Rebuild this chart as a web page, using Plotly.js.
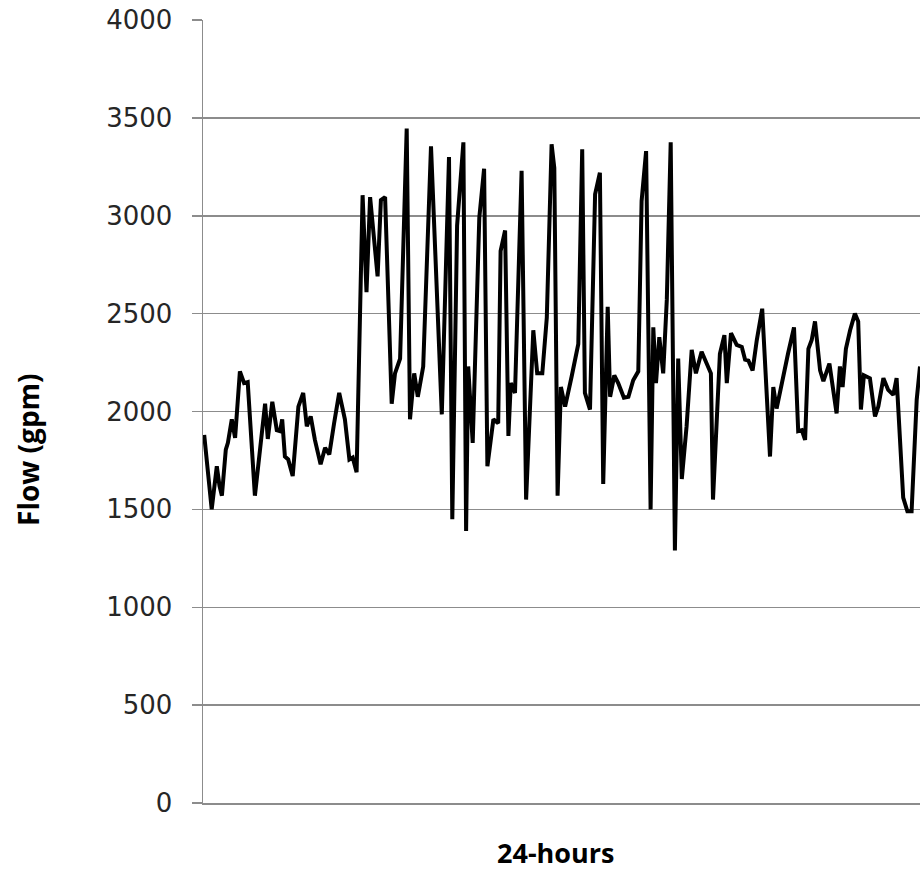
<!DOCTYPE html>
<html>
<head>
<meta charset="utf-8">
<script src="https://cdn.plot.ly/plotly-3.0.1.min.js"></script>
<style>
  html, body { margin: 0; padding: 0; background: #ffffff; overflow: hidden; }
  #chart { width: 930px; height: 870px; }
</style>
</head>
<body>
<div id="chart"></div>
<script>
// Time of day (hours) of each reading
const hours = [
  0.04, 0.29, 0.46, 0.55, 0.63, 0.76, 0.83, 0.96, 1.07, 1.23, 1.37, 1.49, 1.73,
  2.07, 2.16, 2.31, 2.46, 2.57, 2.64, 2.73, 2.84, 2.99, 3.18, 3.34, 3.46, 3.59,
  3.73, 3.92, 4.07, 4.21, 4.37, 4.54, 4.73, 4.88, 4.99, 5.12, 5.32, 5.45, 5.57,
  5.82, 5.93, 6.07, 6.29, 6.40, 6.57, 6.79, 6.90, 7.04, 7.16, 7.34, 7.60, 7.96,
  8.20, 8.31, 8.47, 8.68, 8.77, 8.84, 8.99, 9.21, 9.37, 9.48, 9.68, 9.84, 9.92,
  10.07, 10.18, 10.26, 10.40, 10.62, 10.77, 11.01, 11.14, 11.31, 11.46, 11.62,
  11.71, 11.82, 11.93, 12.07, 12.29, 12.51, 12.64, 12.73, 12.90, 13.07, 13.23,
  13.34, 13.49, 13.57, 13.71, 13.84, 14.03, 14.18, 14.34, 14.51, 14.62, 14.77,
  14.92, 15.01, 15.10, 15.21, 15.34, 15.46, 15.59, 15.73, 15.84, 15.96, 16.12,
  16.29, 16.43, 16.62, 16.93, 17.00, 17.23, 17.38, 17.46, 17.60, 17.79, 17.96,
  18.07, 18.18, 18.32, 18.46, 18.64, 18.90, 19.01, 19.12, 19.50, 19.70, 19.84,
  19.96, 20.07, 20.18, 20.29, 20.40, 20.57, 20.68, 20.88, 21.12, 21.23, 21.32,
  21.43, 21.57, 21.73, 21.84, 21.93, 22.03, 22.23, 22.40, 22.51, 22.68, 22.84,
  23.01, 23.12, 23.34, 23.48, 23.62, 23.79, 23.90
];

// Flow readings (gpm)
const flow = [
  1880, 1500, 1720, 1620, 1570, 1805, 1840, 1960, 1865, 2205, 2145, 2150, 1570,
  2040, 1860, 2050, 1905, 1900, 1960, 1770, 1755, 1670, 2025, 2095, 1925, 1975,
  1855, 1730, 1815, 1780, 1940, 2095, 1960, 1755, 1765, 1690, 3105, 2610, 3095,
  2690, 3080, 3095, 2040, 2195, 2270, 3445, 1960, 2195, 2075, 2230, 3355, 1985,
  3300, 1450, 2950, 3375, 1390, 2230, 1840, 2990, 3240, 1720, 1960, 1940, 2820,
  2925, 1875, 2145, 2095, 3230, 1550, 2415, 2195, 2195, 2480, 3365, 3245, 1570,
  2125, 2025, 2180, 2345, 3340, 2095, 2010, 3110, 3220, 1630, 2535, 2075, 2185,
  2145, 2070, 2075, 2160, 2205, 3075, 3330, 1500, 2430, 2145, 2380, 2195, 2570,
  3375, 1290, 2270, 1655, 1925, 2315, 2195, 2305, 2195, 1550, 2295, 2390, 2145,
  2400, 2340, 2330, 2265, 2260, 2210, 2365, 2525, 1770, 2125, 2015, 2295, 2430,
  1900, 1905, 1855, 2320, 2365, 2460, 2210, 2155, 2245, 1990, 2230, 2125, 2320,
  2415, 2500, 2460, 2010, 2185, 2170, 1975, 2025, 2170, 2110, 2085, 2170, 1560,
  1490, 1490, 2060, 2230
];

const yTicks = [0, 500, 1000, 1500, 2000, 2500, 3000, 3500, 4000];
const xTitle = '24-hours';
const yTitle = 'Flow (gpm)';

const grey = '#8c8c8c';

const trace = {
  x: hours,
  y: flow,
  type: 'scatter',
  mode: 'lines',
  line: { color: '#000000', width: 4 },
  hoverinfo: 'x+y'
};

const layout = {
  width: 930,
  height: 870,
  margin: { l: 203, r: 7, t: 20, b: 67 },
  paper_bgcolor: '#ffffff',
  plot_bgcolor: '#ffffff',
  showlegend: false,
  font: { family: 'DejaVu Sans, sans-serif', color: '#262626' },
  xaxis: {
    range: [0, 24],
    showgrid: false,
    zeroline: false,
    showline: true,
    linecolor: grey,
    linewidth: 1.5,
    showticklabels: false,
    ticks: ''
  },
  yaxis: {
    range: [0, 4000],
    tickvals: yTicks,
    ticktext: yTicks.map(String),
    showgrid: true,
    gridcolor: grey,
    gridwidth: 1.5,
    zeroline: false,
    showline: true,
    linecolor: grey,
    linewidth: 1.5,
    ticks: 'outside',
    ticklen: 10,
    tickwidth: 1.5,
    tickcolor: grey,
    ticklabelstandoff: 14,
    tickfont: { family: 'DejaVu Sans, sans-serif', size: 26, color: '#262626' }
  },
  annotations: [
    {
      text: '<b>' + xTitle + '</b>',
      xref: 'paper', yref: 'paper',
      x: 0.489, y: -0.0626,
      xanchor: 'center', yanchor: 'middle',
      showarrow: false,
      font: { family: 'Open Sans, sans-serif', size: 27, color: '#000000' }
    },
    {
      text: '<b>' + yTitle + '</b>',
      xref: 'paper', yref: 'paper',
      x: -0.243, y: 0.451,
      xanchor: 'center', yanchor: 'middle',
      textangle: -90,
      showarrow: false,
      font: { family: 'Open Sans, sans-serif', size: 28, color: '#000000' }
    }
  ]
};

Plotly.newPlot('chart', [trace], layout, { displayModeBar: false, staticPlot: true });
</script>
</body>
</html>
